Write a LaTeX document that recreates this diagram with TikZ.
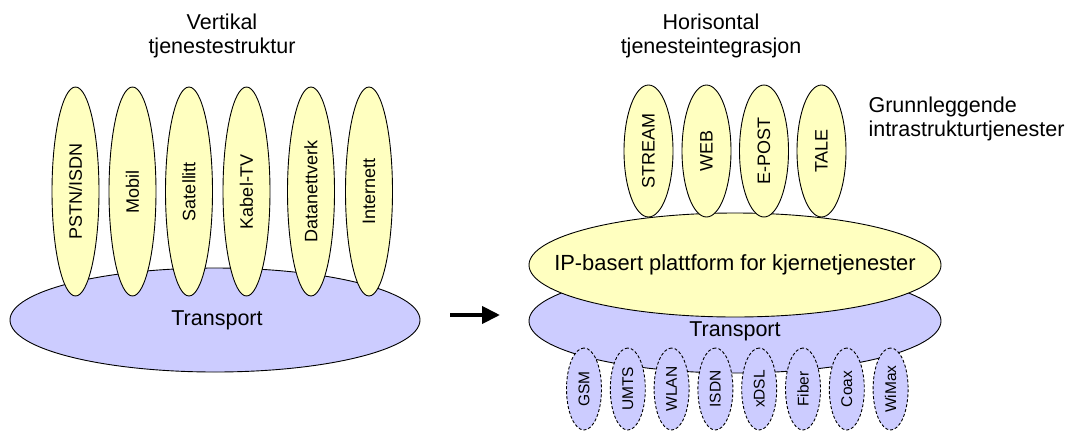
\documentclass[tikz,border=0pt]{standalone}
\usepackage{fontspec}
\setmainfont{Liberation Sans}
\usetikzlibrary{shapes.geometric,arrows.meta}
\definecolor{ylw}{HTML}{FFFFC0}
\definecolor{blu}{HTML}{CCCCFF}
\begin{document}
\begin{tikzpicture}[x=1pt,y=-1pt,
  bigfont/.style={font=\fontsize{21.5}{24}\selectfont},
  base/.style={ellipse, draw, line width=0.9pt, inner sep=0pt},
  transp/.style={base, fill=blu, minimum width=410pt, minimum height=104pt},
  platf/.style={base, fill=ylw, minimum width=412pt, minimum height=104pt},
  vsvc/.style={base, fill=ylw, rotate=90, minimum width=209pt, minimum height=47pt, font=\fontsize{18}{20}\selectfont},
  hsvc/.style={base, fill=ylw, rotate=90, minimum width=132pt, minimum height=49pt, font=\fontsize{18}{20}\selectfont},
  acc/.style={base, fill=blu, dash pattern=on 3pt off 2pt, rotate=90, minimum width=82pt, minimum height=35pt, font=\fontsize{15.5}{17}\selectfont},
  title/.style={align=center, bigfont}]
\useasboundingbox (0,0) rectangle (1068,432);
% left
\node[title] (t1) at (222,36) {Vertikal\\tjenestestruktur};
\node[transp] (tr1) at (215,320) {};
\node[bigfont] (tr1t) at (217,320) {Transport};
\node[vsvc] (v1) at (75.5,191.5) {PSTN/ISDN};
\node[vsvc] (v2) at (132.5,191.5) {Mobil};
\node[vsvc] (v3) at (189,191.5) {Satellitt};
\node[vsvc] (v4) at (246.5,191.5) {Kabel-TV};
\node[vsvc] (v5) at (311,191.5) {Datanettverk};
\node[vsvc] (v6) at (369,191.5) {Internett};
% arrow
\coordinate (a1) at (450,315);
\coordinate (a2) at (500,315);
\draw[line width=4pt, -{Triangle[length=18pt,width=17pt]}] (a1) -- (a2);
% right
\node[title] (t2) at (711,36) {Horisontal\\tjenesteintegrasjon};
\node[transp, minimum width=412pt] (tr2) at (735,321) {};
\foreach \n/\lab [count=\i from 0] in {g1/GSM,g2/UMTS,g3/WLAN,g4/ISDN,g5/xDSL,g6/Fiber,g7/Coax,g8/WiMax}
  \node[acc] (\n) at ({584+43.8*\i},389) {\lab};
\node[bigfont] (tr2t) at (735,331) {Transport};
\node[platf] (ip) at (735,265) {};
\node[font=\fontsize{21.9}{24}\selectfont] (ipt) at (735,265) {IP-basert plattform for kjernetjenester};
\node[hsvc] (h1) at (648.5,151) {STREAM};
\node[hsvc] (h2) at (706.5,151) {WEB};
\node[hsvc] (h3) at (764,151) {E-POST};
\node[hsvc] (h4) at (821.5,151) {TALE};
\node[bigfont, align=left, anchor=west] (gi) at (865,119) {Grunnleggende\\intrastrukturtjenester};
\end{tikzpicture}
\end{document}
